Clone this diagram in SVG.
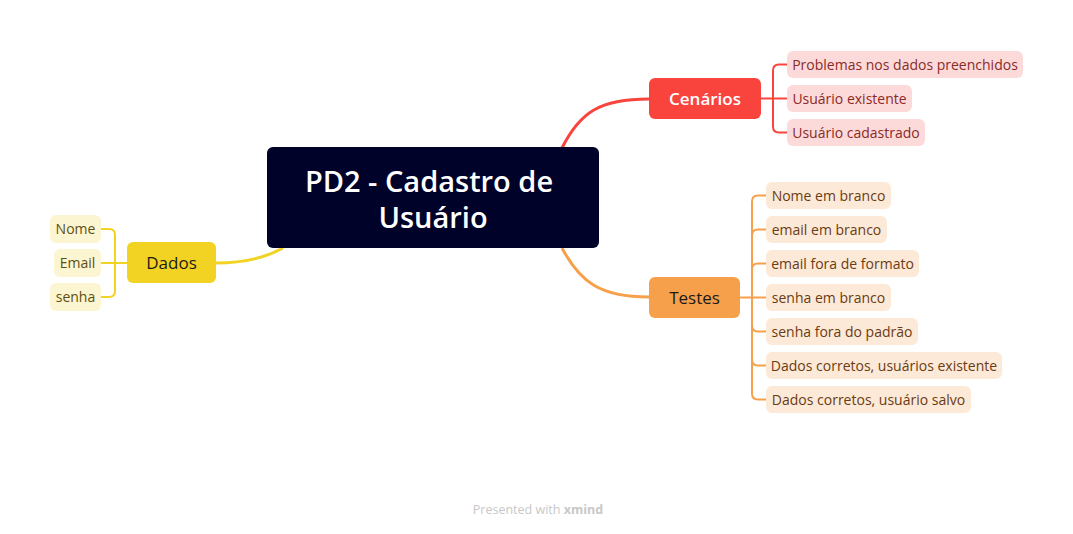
<svg xmlns="http://www.w3.org/2000/svg" width="1073" height="534" viewBox="0 0 1073 534">
<style>
text{font-family:"Open Sans","Noto Sans","Liberation Sans",sans-serif}
.leafY{fill:#FCF5D2}
.leafR{fill:#FDDADA}
.leafO{fill:#FDE9D7}
.tY{fill:#5C5010;font-size:14px}
.tR{fill:#8A2B27;font-size:14px}
.tO{fill:#6A3C13;font-size:14px}
.c{fill:none;stroke-width:2}
</style>
<rect width="1073" height="534" fill="#ffffff"/>
<g id="connectors">
<path d="M216 263 C245 263 265 258 283 248" fill="none" stroke="#F2D323" stroke-width="3"/>
<path d="M562 148 C580 112 600 99 649 99" fill="none" stroke="#F9443E" stroke-width="3"/>
<path d="M562 248 C580 282 600 297 649 297" fill="none" stroke="#F7A04B" stroke-width="3"/>
<g class="c" stroke="#F2D323">
<path d="M127 263 H101"/>
<path d="M101 229 H109 Q115 229 115 235 V291 Q115 297 109 297 H101"/>
</g>
<g class="c" stroke="#F9443E">
<path d="M761 98.5 H787"/>
<path d="M787 64.5 H779 Q773 64.5 773 70.5 V126.5 Q773 132.5 779 132.5 H787"/>
</g>
<g class="c" stroke="#F7A04B">
<path d="M740 297.5 H766"/>
<path d="M766 195.5 H758 Q752 195.5 752 201.5 V393.5 Q752 399.5 758 399.5 H766"/>
<path d="M766 229.5 H758 Q752 229.5 752 235.5"/>
<path d="M766 263.5 H758 Q752 263.5 752 269.5"/>
<path d="M766 331.5 H758 Q752 331.5 752 325.5"/>
<path d="M766 365.5 H758 Q752 365.5 752 359.5"/>
</g>
</g>
<g id="central">
<rect x="267" y="147" width="332" height="101" rx="6" fill="#000229"/>
<text x="429" y="192" font-size="29" font-weight="600" fill="#ffffff" text-anchor="middle">PD2 - Cadastro de</text>
<text x="433" y="228" font-size="29" font-weight="600" fill="#ffffff" text-anchor="middle">Usuário</text>
</g>
<g id="dados">
<rect x="127" y="242" width="89" height="41" rx="6" fill="#F2D323"/>
<text x="171.5" y="269" font-size="17" fill="#1a1a1a" text-anchor="middle">Dados</text>
</g>
<g id="nome"><rect class="leafY" x="50" y="215" width="51" height="28" rx="6"/><text class="tY" x="75.5" y="234" text-anchor="middle">Nome</text></g>
<g id="email"><rect class="leafY" x="54" y="249" width="47" height="28" rx="6"/><text class="tY" x="77.5" y="268" text-anchor="middle">Email</text></g>
<g id="senha"><rect class="leafY" x="50" y="283" width="51" height="28" rx="6"/><text class="tY" x="75.5" y="302" text-anchor="middle">senha</text></g>
<g id="cenarios">
<rect x="649" y="78" width="112" height="41" rx="6" fill="#F9443E"/>
<text x="705" y="105" font-size="17" font-weight="600" fill="#ffffff" text-anchor="middle">Cenários</text>
</g>
<g id="c1"><rect class="leafR" x="787" y="51" width="236" height="27" rx="6"/><text class="tR" x="905" y="69.5" text-anchor="middle">Problemas nos dados preenchidos</text></g>
<g id="c2"><rect class="leafR" x="787" y="85" width="125" height="27" rx="6"/><text class="tR" x="849.5" y="103.5" text-anchor="middle">Usuário existente</text></g>
<g id="c3"><rect class="leafR" x="787" y="119" width="138" height="27" rx="6"/><text class="tR" x="856" y="137.5" text-anchor="middle">Usuário cadastrado</text></g>
<g id="testes">
<rect x="649" y="277" width="91" height="41" rx="6" fill="#F7A04B"/>
<text x="694.5" y="304" font-size="17" fill="#1a1a1a" text-anchor="middle">Testes</text>
</g>
<g id="t1"><rect class="leafO" x="766" y="182" width="125" height="27" rx="6"/><text class="tO" x="828.5" y="200.5" text-anchor="middle">Nome em branco</text></g>
<g id="t2"><rect class="leafO" x="766" y="216" width="121" height="27" rx="6"/><text class="tO" x="826.5" y="234.5" text-anchor="middle">email em branco</text></g>
<g id="t3"><rect class="leafO" x="766" y="250" width="153" height="27" rx="6"/><text class="tO" x="842.5" y="268.5" text-anchor="middle">email fora de formato</text></g>
<g id="t4"><rect class="leafO" x="766" y="284" width="125" height="27" rx="6"/><text class="tO" x="828.5" y="302.5" text-anchor="middle">senha em branco</text></g>
<g id="t5"><rect class="leafO" x="766" y="318" width="152" height="27" rx="6"/><text class="tO" x="842" y="336.5" text-anchor="middle">senha fora do padrão</text></g>
<g id="t6"><rect class="leafO" x="766" y="352" width="236" height="27" rx="6"/><text class="tO" x="884" y="370.5" text-anchor="middle">Dados corretos, usuários existente</text></g>
<g id="t7"><rect class="leafO" x="766" y="386" width="205" height="27" rx="6"/><text class="tO" x="868.5" y="404.5" text-anchor="middle">Dados corretos, usuário salvo</text></g>
<text x="538" y="514" font-size="12.5" fill="#C8C8C8" text-anchor="middle">Presented with <tspan font-weight="700">xmind</tspan></text>
</svg>
